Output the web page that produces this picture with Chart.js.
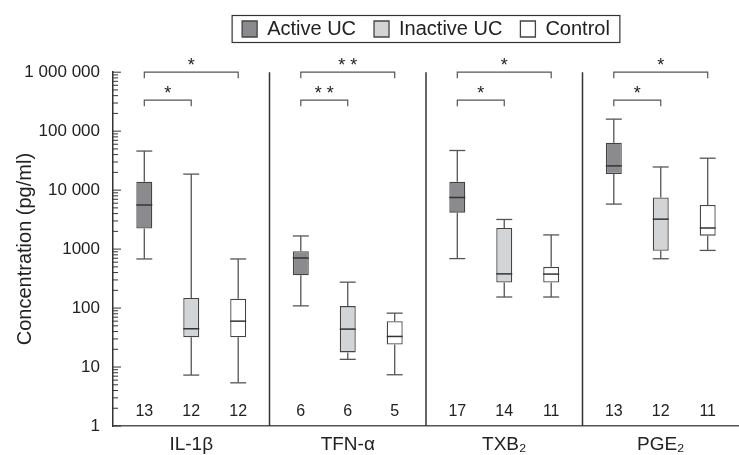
<!DOCTYPE html>
<html>
<head>
<meta charset="utf-8">
<script src="https://cdn.jsdelivr.net/npm/chart.js@4.4.0/dist/chart.umd.min.js"></script>
<style>
  html, body { margin: 0; padding: 0; background: #fff; }
  #wrap { width: 739px; height: 455px; }
</style>
</head>
<body>
<div id="wrap"><canvas id="boxChart" width="739" height="455"></canvas></div>
<script>
var categories = ['IL-1\u03b2', 'TFN-\u03b1', 'TXB\u2082', 'PGE\u2082'];
var groupNames = ['Active UC', 'Inactive UC', 'Control'];

// box plot stats per category (pg/ml)
var activeMin    = [680, 109, 690, 5800];
var activeQ1     = [2230, 360, 4150, 18700];
var activeMedian = [5600, 706, 7500, 25800];
var activeQ3     = [13900, 920, 13900, 63500];
var activeMax    = [46000, 1670, 47000, 160000];

var inactiveMin    = [7.3, 13.5, 154, 686];
var inactiveQ1     = [32, 17.7, 272, 935];
var inactiveMedian = [44.6, 44, 380, 3220];
var inactiveQ3     = [148, 108, 2280, 7500];
var inactiveMax    = [18700, 275, 3180, 24700];

var controlMin    = [5.4, 7.4, 154, 950];
var controlQ1     = [32, 24, 272, 1690];
var controlMedian = [60, 33, 377, 2280];
var controlQ3     = [144, 60, 500, 5600];
var controlMax    = [680, 82, 1740, 34800];

// n per group
var activeCount   = [13, 6, 17, 13];
var inactiveCount = [12, 6, 14, 12];
var controlCount  = [12, 5, 11, 11];

// significance marks: active vs control (upper), active vs inactive (lower)
var starsUpper = ['*', '**', '*', '*'];
var starsLower = ['*', '**', '*', '*'];
var bracketUpperValue = 1000000;
var bracketLowerValue = 335000;

var tickValues = [1, 10, 100, 1000, 10000, 100000, 1000000];
var tickLabels = ['1', '10', '100', '1000', '10 000', '100 000', '1 000 000'];

var fills = ['#8b8b8d', '#d3d4d6', '#ffffff'];
var lineColor = '#444';
var textColor = '#222';

var groups = [
    { min: activeMin, q1: activeQ1, med: activeMedian, q3: activeQ3, max: activeMax, n: activeCount },
    { min: inactiveMin, q1: inactiveQ1, med: inactiveMedian, q3: inactiveQ3, max: inactiveMax, n: inactiveCount },
    { min: controlMin, q1: controlQ1, med: controlMedian, q3: controlQ3, max: controlMax, n: controlCount }
];

var datasets = groups.map(function(g, i) {
    return {
        label: groupNames[i],
        data: g.q1.map(function(v, j) { return [v, g.q3[j]]; }),
        backgroundColor: fills[i],
        borderColor: lineColor,
        borderWidth: 1.3,
        borderSkipped: false,
        categoryPercentage: 0.9,
        barPercentage: 0.34
    };
});

function line(ctx, x1, y1, x2, y2) {
    ctx.beginPath();
    ctx.moveTo(x1, y1);
    ctx.lineTo(x2, y2);
    ctx.stroke();
}

var boxExtras = {
    id: 'boxExtras',
    afterDatasetsDraw: function(chart) {
        var ctx = chart.ctx, y = chart.scales.y, x = chart.scales.x, area = chart.chartArea;
        ctx.save();

        // whiskers and medians
        groups.forEach(function(g, i) {
            var meta = chart.getDatasetMeta(i);
            meta.data.forEach(function(bar, j) {
                var half = bar.width / 2;
                ctx.strokeStyle = '#555';
                ctx.lineWidth = 1.3;
                var yMax = y.getPixelForValue(g.max[j]), yQ3 = y.getPixelForValue(g.q3[j]);
                var yMin = y.getPixelForValue(g.min[j]), yQ1 = y.getPixelForValue(g.q1[j]);
                line(ctx, bar.x, yQ3, bar.x, yMax);
                line(ctx, bar.x - half, yMax, bar.x + half, yMax);
                line(ctx, bar.x, yQ1, bar.x, yMin);
                line(ctx, bar.x - half, yMin, bar.x + half, yMin);
                ctx.strokeStyle = '#333';
                ctx.lineWidth = 1.5;
                var yMed = y.getPixelForValue(g.med[j]);
                line(ctx, bar.x - half, yMed, bar.x + half, yMed);

                // n labels
                ctx.fillStyle = textColor;
                ctx.font = '16px "Liberation Sans", Arial, sans-serif';
                ctx.textAlign = 'center';
                ctx.textBaseline = 'middle';
                ctx.fillText(String(g.n[j]), bar.x, area.bottom - 14);
            });
        });

        // separators between categories
        ctx.strokeStyle = '#333';
        ctx.lineWidth = 1.5;
        for (var k = 1; k < categories.length; k++) {
            var sx = (x.getPixelForValue(k - 1) + x.getPixelForValue(k)) / 2;
            line(ctx, sx, area.top, sx, area.bottom);
        }

        // significance brackets
        var m0 = chart.getDatasetMeta(0), m1 = chart.getDatasetMeta(1), m2 = chart.getDatasetMeta(2);
        var yUp = y.getPixelForValue(bracketUpperValue), yLow = y.getPixelForValue(bracketLowerValue);
        ctx.strokeStyle = '#555';
        ctx.lineWidth = 1.2;
        ctx.fillStyle = textColor;
        ctx.font = '18px "Liberation Sans", Arial, sans-serif';
        ctx.textAlign = 'center';
        ctx.textBaseline = 'alphabetic';
        function bracket(xa, xb, yy, stars) {
            ctx.beginPath();
            ctx.moveTo(xa, yy + 6);
            ctx.lineTo(xa, yy);
            ctx.lineTo(xb, yy);
            ctx.lineTo(xb, yy + 6);
            ctx.stroke();
            var cx = (xa + xb) / 2;
            for (var s = 0; s < stars.length; s++) {
                ctx.fillText('*', cx + (s - (stars.length - 1) / 2) * 12, yy - 1);
            }
        }
        for (var c = 0; c < categories.length; c++) {
            bracket(m0.data[c].x, m2.data[c].x, yUp, starsUpper[c]);
            bracket(m0.data[c].x, m1.data[c].x, yLow, starsLower[c]);
        }

        // inward log ticks on the y axis
        ctx.strokeStyle = '#333';
        ctx.lineWidth = 1;
        tickValues.forEach(function(v, idx) {
            var py = y.getPixelForValue(v);
            line(ctx, area.left, py, area.left + 8, py);
            if (idx < tickValues.length - 1) {
                for (var m = 2; m < 10; m++) {
                    var pm = y.getPixelForValue(v * m);
                    line(ctx, area.left, pm, area.left + 5, pm);
                }
            }
        });
        ctx.restore();
    },
    afterDraw: function(chart) {
        // frame around the legend
        var boxes = chart.legend.legendHitBoxes;
        if (!boxes || !boxes.length) return;
        var minX = Infinity, maxX = -Infinity, cy = boxes[0].top + boxes[0].height / 2;
        boxes.forEach(function(b) {
            minX = Math.min(minX, b.left);
            maxX = Math.max(maxX, b.left + b.width);
        });
        var ctx = chart.ctx;
        ctx.save();
        ctx.strokeStyle = '#333';
        ctx.lineWidth = 1.2;
        ctx.strokeRect(minX - 10, cy - 13.5, maxX - minX + 20, 27);
        ctx.restore();
    }
};

var chart = new Chart(document.getElementById('boxChart').getContext('2d'), {
    type: 'bar',
    data: {
        labels: categories,
        datasets: datasets
    },
    options: {
        responsive: false,
        animation: false,
        layout: { padding: { top: 1, right: 0, bottom: 0, left: 0 } },
        plugins: {
            tooltip: { enabled: false },
            legend: {
                position: 'top',
                fullSize: false,
                labels: {
                    boxWidth: 15,
                    boxHeight: 16,
                    padding: 18,
                    color: textColor,
                    font: { size: 20, family: '"Liberation Sans", Arial, sans-serif' }
                }
            },
            // empty spacer between legend and plot
            subtitle: {
                display: true,
                text: ' ',
                weight: 500,
                font: { size: 1 },
                padding: { top: 22, bottom: 0 }
            }
        },
        scales: {
            x: {
                grid: { display: false, drawTicks: false },
                border: { display: true, color: '#555', width: 1.5 },
                ticks: {
                    padding: 7,
                    color: textColor,
                    font: { size: 19, family: '"Liberation Sans", Arial, sans-serif' }
                },
                afterFit: function(scale) { scale.height = 29; }
            },
            y: {
                type: 'logarithmic',
                min: 1,
                max: 1000000,
                grid: { display: false },
                border: { display: true, color: '#333', width: 1.5 },
                ticks: {
                    autoSkip: false,
                    padding: 5,
                    color: textColor,
                    font: { size: 17, family: '"Liberation Sans", Arial, sans-serif' },
                    callback: function(value) {
                        var k = tickValues.indexOf(Number(value));
                        return k >= 0 ? tickLabels[k] : '';
                    }
                },
                title: {
                    display: true,
                    text: 'Concentration (pg/ml)',
                    color: textColor,
                    padding: { top: 13, bottom: 0 },
                    font: { size: 20, family: '"Liberation Sans", Arial, sans-serif' }
                },
                afterFit: function(scale) { scale.width = 113; }
            }
        }
    },
    plugins: [boxExtras]
});
</script>
</body>
</html>
